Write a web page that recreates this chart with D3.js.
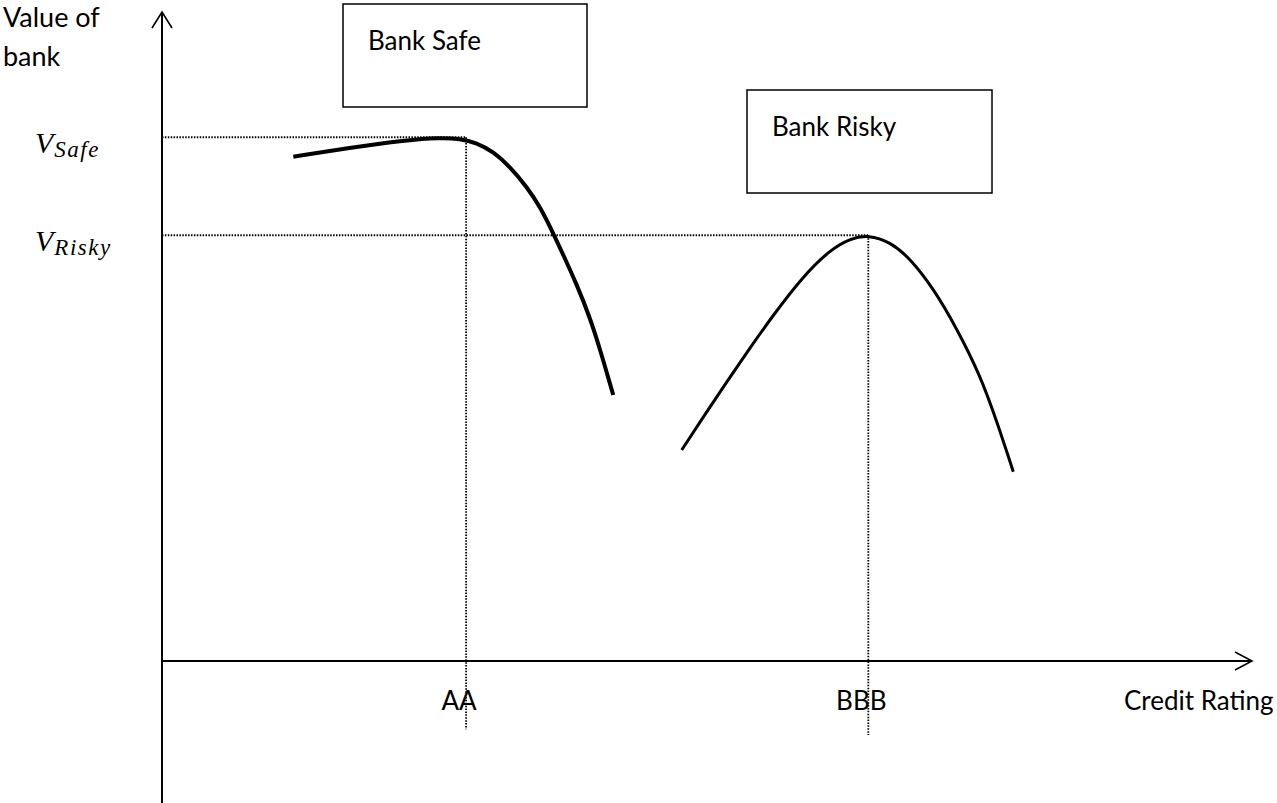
<!DOCTYPE html>
<html lang="en">
<head>
<meta charset="utf-8">
<title>Value of bank vs Credit Rating</title>
<script src="https://cdn.jsdelivr.net/npm/d3@7"></script>
<style>
  body { margin: 0; background: #fff; }
  text { font-family: Lato, "Open Sans", sans-serif; fill: #000; }
  .math { font-family: "Liberation Serif", "DejaVu Serif", serif; font-style: italic; }
</style>
</head>
<body>
<script>
// curves (x: credit rating units 0-100, y: value units 0-100)
var safeX = [12.05, 16.94, 22.45, 25.5, 27.34, 28.87, 30.39, 31.93, 33.46, 34.68, 35.75, 36.82, 38.05, 39.27, 40.18, 41.4];
var safeY = [77.7, 79.0, 80.28, 80.63, 80.48, 79.86, 78.47, 76.16, 73.08, 70.0, 66.41, 62.56, 58.01, 52.88, 48.07, 40.99];
var riskyX = [47.68, 49.66, 51.81, 53.94, 56.08, 58.83, 61.28, 63.12, 64.8, 66.79, 68.62, 70.76, 72.91, 75.05, 76.58, 78.1];
var riskyY = [32.51, 37.6, 42.99, 48.23, 53.31, 59.32, 63.33, 65.1, 65.64, 64.61, 62.05, 57.43, 51.26, 44.07, 36.98, 29.17];

// reference levels
var ratingNames = ["AA", "BBB"];
var ratingPos = [27.9, 64.8];
var valueNames = ["Safe", "Risky"];
var valueLevels = [80.7, 65.6];
var guideBottom = [-10.5, -11.4];

var boxLabels = ["Bank Safe", "Bank Risky"];

var w = 1277, h = 803;
var x0 = 162, xEnd = 1252, y0 = 661, yTop = 12;

var x = d3.scaleLinear().domain([0, 100]).range([x0, x0 + 1090]);
var y = d3.scaleLinear().domain([0, 100]).range([y0, y0 - 649]);

var svg = d3.select("body").append("svg")
  .attr("width", w)
  .attr("height", h);

// dotted guide lines
valueLevels.forEach(function(v, i) {
  svg.append("line")
    .attr("x1", x0).attr("x2", x(ratingPos[i]))
    .attr("y1", y(v)).attr("y2", y(v))
    .attr("stroke", "#000").attr("stroke-width", 1.8)
    .attr("stroke-dasharray", "1.5,1.4");
  svg.append("line")
    .attr("x1", x(ratingPos[i])).attr("x2", x(ratingPos[i]))
    .attr("y1", y(v)).attr("y2", y(guideBottom[i]))
    .attr("stroke", "#000").attr("stroke-width", 1.8)
    .attr("stroke-dasharray", "1.5,1.4");
});

// axes
svg.append("line")
  .attr("x1", x0).attr("x2", x0).attr("y1", yTop).attr("y2", h)
  .attr("stroke", "#000").attr("stroke-width", 2);
svg.append("line")
  .attr("x1", x0).attr("x2", xEnd).attr("y1", y0).attr("y2", y0)
  .attr("stroke", "#000").attr("stroke-width", 2);

// open arrow heads
svg.append("path")
  .attr("d", "M" + (x0 - 10) + "," + (yTop + 16) + "L" + x0 + "," + yTop + "L" + (x0 + 10) + "," + (yTop + 16))
  .attr("fill", "none").attr("stroke", "#000").attr("stroke-width", 1.6);
svg.append("path")
  .attr("d", "M" + (xEnd - 17) + "," + (y0 - 9) + "L" + xEnd + "," + y0 + "L" + (xEnd - 17) + "," + (y0 + 9))
  .attr("fill", "none").attr("stroke", "#000").attr("stroke-width", 1.6);

// curves (basis smooths the hand-read points)
var line = d3.line()
  .x(function(d) { return x(d[0]); })
  .y(function(d) { return y(d[1]); })
  .curve(d3.curveBasis);

svg.append("path")
  .datum(d3.zip(safeX, safeY))
  .attr("d", line)
  .attr("fill", "none").attr("stroke", "#000").attr("stroke-width", 4);

svg.append("path")
  .datum(d3.zip(riskyX, riskyY))
  .attr("d", line)
  .attr("fill", "none").attr("stroke", "#000").attr("stroke-width", 3);

// boxes
var boxes = [[343, 4, 244, 103], [747, 90, 245, 103]];
boxes.forEach(function(b, i) {
  svg.append("rect")
    .attr("x", b[0]).attr("y", b[1]).attr("width", b[2]).attr("height", b[3])
    .attr("fill", "#fff").attr("stroke", "#000").attr("stroke-width", 1.5);
  svg.append("text")
    .attr("x", b[0] + 25).attr("y", b[1] + 46)
    .style("font-size", "26px")
    .text(boxLabels[i]);
});

// axis titles
svg.append("text").attr("x", 3).attr("y", 27).style("font-size", "27px").text("Value of");
svg.append("text").attr("x", 3).attr("y", 66).style("font-size", "27px").text("bank");
svg.append("text").attr("x", 1124).attr("y", 710).style("font-size", "26px").text("Credit Rating");

// rating labels
ratingNames.forEach(function(r, i) {
  svg.append("text")
    .attr("x", x(ratingPos[i]) - 7).attr("y", 710)
    .attr("text-anchor", "middle")
    .style("font-size", "26px")
    .text(r);
});

// value labels V_Safe, V_Risky
valueNames.forEach(function(v, i) {
  var t = svg.append("text")
    .attr("class", "math")
    .attr("x", 35).attr("y", y(valueLevels[i]) + 16)
    .style("font-size", "30px");
  t.append("tspan").text("V");
  t.append("tspan").attr("dy", 4).attr("dx", 1)
    .style("font-size", "23px").style("letter-spacing", "1.5px").text(v);
});
</script>
</body>
</html>
